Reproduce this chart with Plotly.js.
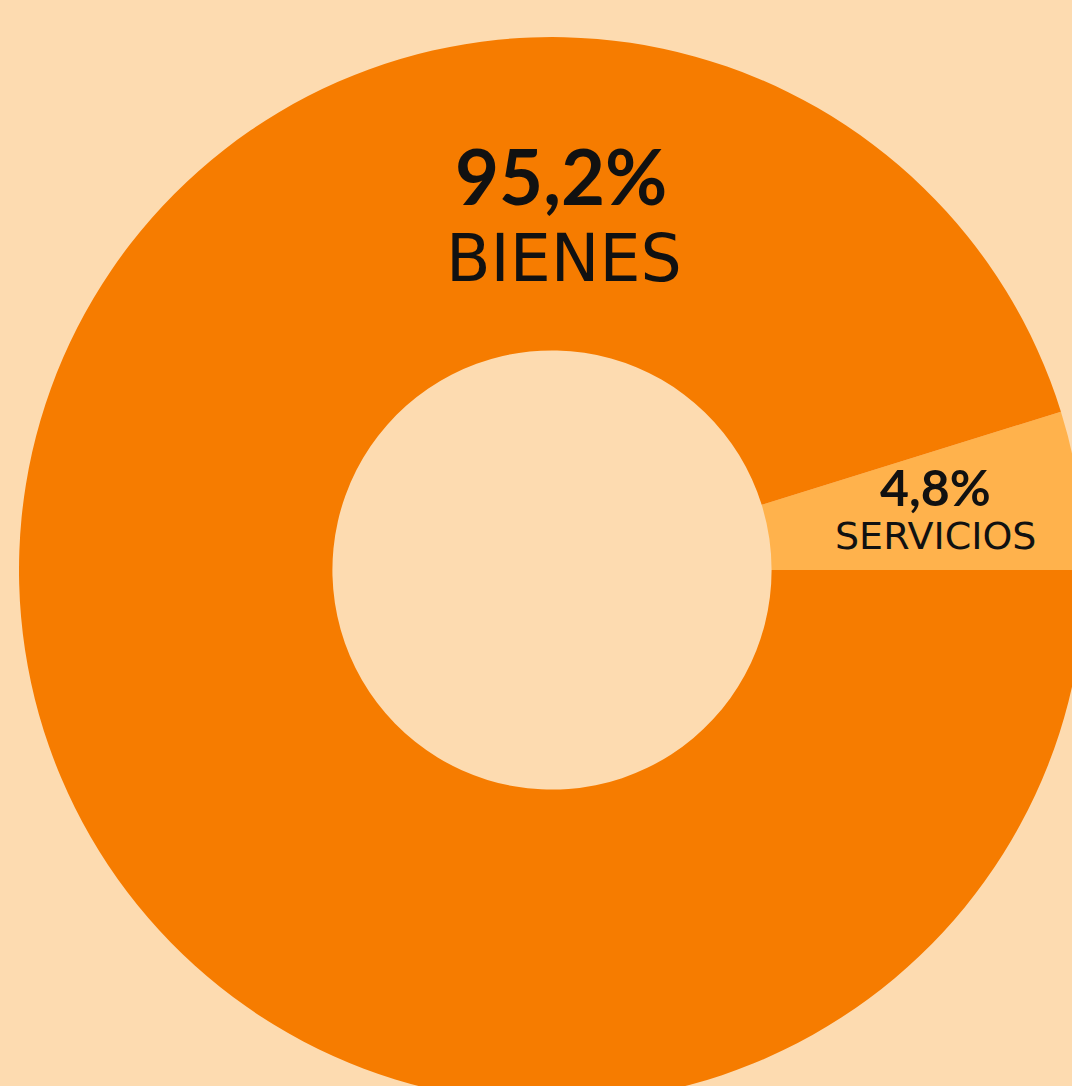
<!DOCTYPE html>
<html>
<head>
<meta charset="utf-8">
<script src="https://cdn.plot.ly/plotly-3.0.1.min.js"></script>
<style>
html, body { margin:0; padding:0; width:1072px; height:1086px; overflow:hidden; background:#FDDBB0; }
#chart { position:absolute; left:19px; top:37px; width:1066px; height:1066px; }
</style>
</head>
<body>
<div id="chart"></div>
<script>
const categories = ["SERVICIOS", "BIENES"];
const values = [4.8, 95.2];
const valueLabels = ["4,8%", "95,2%"];
const colors = ["#FFB24C", "#F67C00"];

const trace = {
  type: "pie",
  labels: categories,
  values: values,
  hole: 0.412,
  sort: false,
  direction: "clockwise",
  rotation: 72.72,
  textinfo: "none",
  hoverinfo: "none",
  marker: { colors: colors, line: { width: 0 } },
  domain: { x: [0, 1], y: [0, 1] },
  showlegend: false
};

const boldFam = "Lato, 'Open Sans', sans-serif";
const labelFam = "'DejaVu Sans', sans-serif";
const annotations = [
  { x: 0.5084, y: 0.8705, text: "<b>" + valueLabels[1] + "</b>", font: { size: 76, family: boldFam, color: "#111" } },
  { x: 0.5113, y: 0.7920, text: categories[1], font: { size: 65, family: labelFam, color: "#111" } },
  { x: 0.8593, y: 0.5780, text: "<b>" + valueLabels[0] + "</b>", font: { size: 50, family: boldFam, color: "#111" } },
  { x: 0.8593, y: 0.5315, text: categories[0], font: { size: 38, family: labelFam, color: "#111" } }
].map(a => Object.assign({ xref: "paper", yref: "paper", showarrow: false, xanchor: "center", yanchor: "middle" }, a));

Plotly.newPlot("chart", [trace], {
  width: 1066, height: 1066,
  margin: { l: 0, r: 0, t: 0, b: 0, pad: 0 },
  paper_bgcolor: "rgba(0,0,0,0)",
  plot_bgcolor: "rgba(0,0,0,0)",
  annotations: annotations
}, { displayModeBar: false, staticPlot: true });
</script>
</body>
</html>
